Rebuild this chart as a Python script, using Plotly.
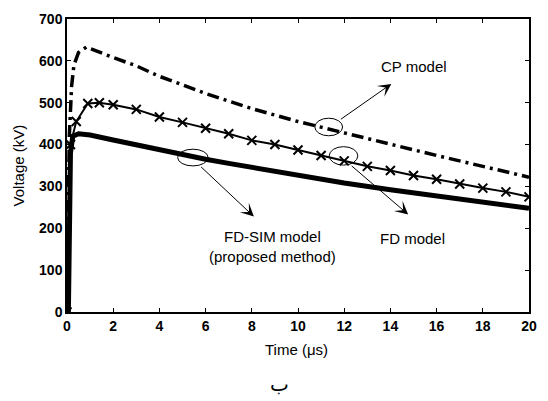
import plotly.graph_objects as go

# ---- data ----
cp_t = [0, 0.05, 0.1, 0.2, 0.3, 0.5, 0.84, 2, 3, 4, 6, 8, 10, 12, 14, 16, 18, 20]
cp_v = [0, 300, 420, 540, 590, 620, 633, 608, 588, 563, 522, 486, 455, 428, 400, 374, 348, 322]

fd_t = [0, 0.15, 0.4, 0.9, 1.4, 2, 3, 4, 5, 6, 7, 8, 9, 10, 11, 12, 13, 14, 15, 16, 17, 18, 19, 20]
fd_v = [0, 400, 455, 498, 500, 495, 484, 466, 453, 439, 426, 410, 400, 387, 374, 361, 348, 338, 326, 317, 306, 296, 287, 275]

sim_t = [0, 0.06, 0.15, 0.25, 0.5, 1, 2, 3, 4, 5, 6, 7, 8, 9, 10, 12, 14, 16, 18, 20]
sim_v = [0, 0, 380, 420, 426, 423, 411, 399, 388, 377, 365, 355, 345, 336, 326, 308, 292, 278, 263, 248]

x_ticks = list(range(0, 21, 2))
y_ticks = list(range(0, 701, 100))

# annotation placements (data coordinates)
labels = [
    dict(text="CP model", x=15.0, y=587),
    dict(text="FD model", x=14.95, y=176),
    dict(text="FD-SIM model<br>(proposed method)", x=8.9, y=157),
]
ellipses = [  # centre t, centre v, half width, half height
    (11.33, 442, 0.6, 21),
    (11.97, 373, 0.62, 22),
    (5.45, 369, 0.66, 20),
]
arrows = [  # tail t, tail v, head t, head v
    (11.79, 458, 14.04, 545),
    (12.26, 352, 14.77, 233),
    (5.74, 350, 8.09, 228),
]

fig = go.Figure()
fig.add_trace(go.Scatter(x=sim_t, y=sim_v, mode="lines",
                         line=dict(color="black", width=5), showlegend=False))
fig.add_trace(go.Scatter(x=cp_t, y=cp_v, mode="lines",
                         line=dict(color="black", width=3.5, dash="12px,5px,3px,5px"),
                         showlegend=False))
fig.add_trace(go.Scatter(x=fd_t, y=fd_v, mode="lines+markers",
                         line=dict(color="black", width=2),
                         marker=dict(symbol="x-thin", size=9,
                                     line=dict(color="black", width=2)),
                         showlegend=False))

for (cx, cy, hw, hh) in ellipses:
    fig.add_shape(type="circle", xref="x", yref="y",
                  x0=cx - hw, x1=cx + hw, y0=cy - hh, y1=cy + hh,
                  line=dict(color="black", width=1))

for (tx, tv, hx, hv) in arrows:
    fig.add_annotation(x=hx, y=hv, ax=tx, ay=tv, xref="x", yref="y",
                       axref="x", ayref="y", text="", showarrow=True,
                       arrowhead=3, arrowsize=2.2, arrowwidth=1,
                       arrowcolor="black")

for lab in labels:
    fig.add_annotation(x=lab["x"], y=lab["y"], xref="x", yref="y",
                       text=lab["text"], showarrow=False,
                       xanchor="center", yanchor="middle",
                       font=dict(family="Arial", size=15, color="black"),
                       align="center")

# axis titles and caption
fig.add_annotation(x=0.497, y=-0.1275, xref="paper", yref="paper",
                   xanchor="center", yanchor="middle",
                   text="Time (\u03bcs)", showarrow=False,
                   font=dict(family="Arial", size=15, color="black"))
fig.add_annotation(x=-0.104, y=0.5, xref="paper", yref="paper",
                   xanchor="center", yanchor="middle",
                   text="Voltage (kV)", showarrow=False, textangle=-90,
                   font=dict(family="Arial", size=15, color="black"))
fig.add_annotation(x=0.459, y=-0.245, xref="paper", yref="paper",
                   xanchor="center", yanchor="middle",
                   text="\u0628", showarrow=False,
                   font=dict(family="DejaVu Sans", size=20, color="black"))

axis_common = dict(showgrid=False, zeroline=False, showline=True,
                   linecolor="black", linewidth=1.5, mirror="ticks",
                   ticks="inside", ticklen=4, tickcolor="black", tickwidth=1,
                   tickfont=dict(family="Arial", size=14, color="black", weight="bold"))

fig.update_xaxes(range=[0, 20], tickvals=x_ticks, ticktext=[str(v) for v in x_ticks],
                 **axis_common)
fig.update_yaxes(range=[0, 700], tickvals=y_ticks, ticktext=[str(v) for v in y_ticks],
                 **axis_common)

fig.update_layout(width=548, height=401,
                  margin=dict(l=67, r=11, t=14, b=89),
                  plot_bgcolor="white", paper_bgcolor="white")

fig.write_html("out.html")
